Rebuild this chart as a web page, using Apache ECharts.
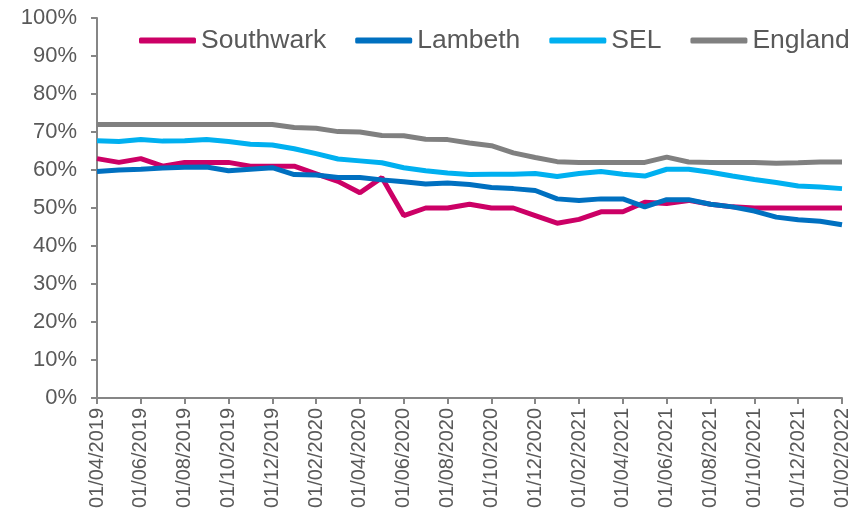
<!DOCTYPE html>
<html>
<head>
<meta charset="utf-8">
<script src="https://cdn.jsdelivr.net/npm/echarts@6/dist/echarts.min.js"></script>
<style>
  html, body { margin: 0; padding: 0; background: #fff; }
  #chart { width: 867px; height: 514px; }
</style>
</head>
<body>
<div id="chart"></div>
<script>
const months = [
  '01/04/2019', '01/05/2019', '01/06/2019', '01/07/2019', '01/08/2019', '01/09/2019',
  '01/10/2019', '01/11/2019', '01/12/2019', '01/01/2020', '01/02/2020', '01/03/2020',
  '01/04/2020', '01/05/2020', '01/06/2020', '01/07/2020', '01/08/2020', '01/09/2020',
  '01/10/2020', '01/11/2020', '01/12/2020', '01/01/2021', '01/02/2021', '01/03/2021',
  '01/04/2021', '01/05/2021', '01/06/2021', '01/07/2021', '01/08/2021', '01/09/2021',
  '01/10/2021', '01/11/2021', '01/12/2021', '01/01/2022', '01/02/2022'
]

const southwark = [63, 62, 63, 61, 62, 62, 62, 61, 61, 61, 59, 57, 54, 58, 48, 50, 50, 51,
  50, 50, 48, 46, 47, 49, 49, 51.5, 51.2, 52, 51, 50.3, 50, 50, 50, 50, 50]
const lambeth = [59.6, 60, 60.2, 60.5, 60.7, 60.8, 59.8, 60.2, 60.6, 58.8, 58.7, 58, 58, 57.4,
  56.9, 56.3, 56.6, 56.2, 55.4, 55.1, 54.6, 52.4, 52, 52.4, 52.4, 50.3, 52.2, 52.2, 51, 50.3,
  49.2, 47.6, 46.9, 46.5, 45.6]
const sel = [67.7, 67.5, 68, 67.6, 67.7, 68, 67.5, 66.8, 66.6, 65.6, 64.3, 62.9, 62.4, 61.9,
  60.6, 59.8, 59.2, 58.8, 58.9, 58.9, 59.1, 58.3, 59.1, 59.6, 58.9, 58.4, 60.2, 60.2, 59.4,
  58.4, 57.5, 56.7, 55.8, 55.5, 55.1]
const england = [72, 72, 72, 72, 72, 72, 72, 72, 72, 71.2, 71, 70.1, 70, 69.1, 69, 68.1, 68,
  67.1, 66.4, 64.5, 63.3, 62.2, 62, 62, 62, 62, 63.4, 62.1, 62, 62, 62, 61.8, 61.9, 62.1, 62.1]

const seriesNames = ['Southwark', 'Lambeth', 'SEL', 'England']
const seriesData = [southwark, lambeth, sel, england]
const colours = ['#CC0066', '#0070C0', '#00B0F0', '#808080']

const font = '"Liberation Sans", Arial, sans-serif'
const axisGrey = '#868686'

let chart = echarts.init(document.getElementById('chart'))

chart.setOption({
  animation: false,
  color: colours,
  grid: { left: 97, right: 25, top: 18, bottom: 116 },
  legend: {
    top: 27,
    left: 139,
    width: 728,
    padding: 0,
    itemWidth: 57,
    itemHeight: 6,
    itemGap: 29,
    icon: 'roundRect',
    textStyle: { fontFamily: font, fontSize: 26.5, color: '#595959' },
    data: seriesNames
  },
  xAxis: {
    type: 'category',
    data: months,
    boundaryGap: false,
    axisLine: { lineStyle: { color: axisGrey, width: 2 } },
    axisTick: { interval: 1, length: 6, lineStyle: { color: axisGrey, width: 2 } },
    axisLabel: {
      interval: 1,
      rotate: 90,
      margin: 10,
      fontFamily: font,
      fontSize: 20,
      color: '#595959'
    }
  },
  yAxis: {
    type: 'value',
    min: 0,
    max: 100,
    interval: 10,
    splitLine: { show: false },
    axisLine: { show: true, lineStyle: { color: axisGrey, width: 2 } },
    axisTick: { show: true, length: 6, lineStyle: { color: axisGrey, width: 2 } },
    axisLabel: {
      formatter: '{value}%',
      margin: 20,
      fontFamily: font,
      fontSize: 22,
      color: '#595959'
    }
  },
  series: seriesNames.map((name, i) => ({
    name: name,
    type: 'line',
    data: seriesData[i],
    symbol: 'none',
    lineStyle: { width: 5, color: colours[i] }
  }))
})
</script>
</body>
</html>
